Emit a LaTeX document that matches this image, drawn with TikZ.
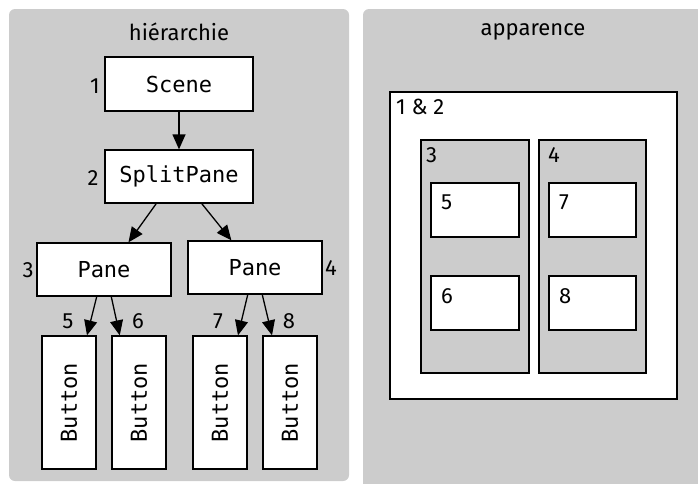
\documentclass[tikz,border=0pt]{standalone}
\usepackage{fontspec}
\setmainfont{Fira Sans}
\setmonofont{DejaVu Sans Mono}
\usetikzlibrary{arrows.meta}
\tikzset{
  panel/.style={fill=black!20, rounded corners=6pt},
  txt/.style={font=\fontsize{22}{22}\selectfont, inner sep=0pt},
  classbox/.style={draw, fill=white, line width=1.3pt, inner sep=0pt,
    font=\fontsize{22}{22}\selectfont\ttfamily},
  btnbox/.style={classbox, minimum width=54pt, minimum height=133pt},
  arr/.style={-{Triangle[length=15pt,width=13pt]}, line width=1.3pt},
  frame/.style={draw, line width=1.3pt}
}
\begin{document}
\begin{tikzpicture}[x=1pt,y=-1pt]
  \useasboundingbox (0,0) rectangle (698,483);
  % panneaux
  \fill[panel] (9,9) rectangle (349,481);
  \fill[panel] (363,9) rectangle (710,500);
  \node[txt] (thier) at (179,32) {hiérarchie};
  \node[txt] (tapp) at (533,32) {apparence};
  % hierarchie
  \node[classbox, minimum width=148pt, minimum height=54pt] (scene) at (179,84) {Scene};
  \node[classbox, minimum width=148pt, minimum height=53pt] (split) at (179,176.5) {SplitPane};
  \node[classbox, minimum width=134pt, minimum height=53pt] (paneL) at (104,269.5) {Pane};
  \node[classbox, minimum width=134pt, minimum height=53pt] (paneR) at (255,267.5) {Pane};
  \node[btnbox] (b5) at (69,402.5) {\rotatebox{90}{Button}};
  \node[btnbox] (b6) at (139,402.5) {\rotatebox{90}{Button}};
  \node[btnbox] (b7) at (220,402.5) {\rotatebox{90}{Button}};
  \node[btnbox] (b8) at (290,402.5) {\rotatebox{90}{Button}};
  \node[txt] (n1) at (95,86) {1};
  \node[txt] (n2) at (93,178) {2};
  \node[txt] (n3) at (28,270) {3};
  \node[txt] (n4) at (331,268) {4};
  \node[txt] (n5) at (68,321) {5};
  \node[txt] (n6) at (138,321) {6};
  \node[txt] (n7) at (218,321) {7};
  \node[txt] (n8) at (289,321) {8};
  \draw[arr] (scene) -- (split);
  \draw[arr] (split.230) -- (paneL.48);
  \draw[arr] (split.310) -- (paneR.131);
  \draw[arr] (paneL.255) -- (b5.75);
  \draw[arr] (paneL.285) -- (b6.106);
  \draw[arr] (paneR.255) -- (b7.75);
  \draw[arr] (paneR.285) -- (b8.105);
  % apparence
  \draw[frame, fill=white] (390,92) rectangle (677,399);
  \draw[frame, fill=black!20] (421,140) rectangle (529,373);
  \draw[frame, fill=black!20] (539,140) rectangle (646,373);
  \draw[frame, fill=white] (431,183) rectangle (519,237);
  \draw[frame, fill=white] (431,276) rectangle (519,330);
  \draw[frame, fill=white] (549,183) rectangle (636,237);
  \draw[frame, fill=white] (549,276) rectangle (636,330);
  \node[txt, anchor=north west] (a12) at (396,99) {1 \& 2};
  \node[txt, anchor=north west] (a3) at (426,147) {3};
  \node[txt, anchor=north west] (a4) at (548,147) {4};
  \node[txt, anchor=north west] (a5) at (441,195) {5};
  \node[txt, anchor=north west] (a6) at (441,288) {6};
  \node[txt, anchor=north west] (a7) at (559,195) {7};
  \node[txt, anchor=north west] (a8) at (559,288) {8};
\end{tikzpicture}
\end{document}
